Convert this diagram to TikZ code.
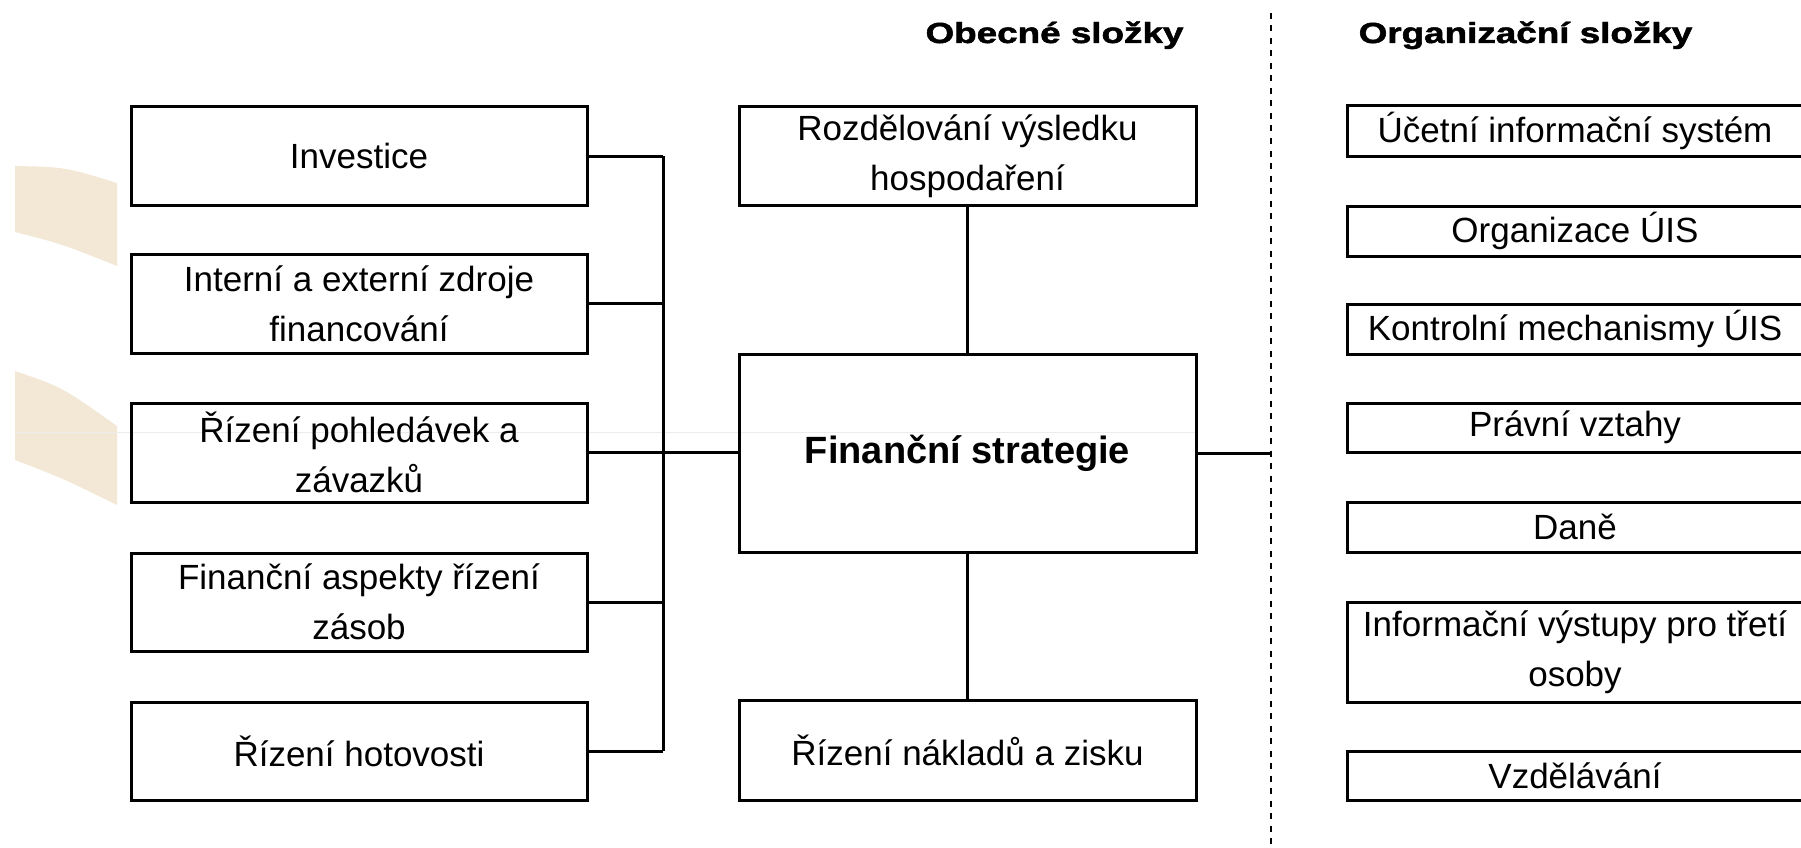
\documentclass[tikz,border=0pt]{standalone}
\usepackage{graphicx}
\usepackage{fontspec}
\setmainfont{Liberation Sans}
\newfontfamily\hdrfont[FakeBold=1.6]{Liberation Sans Bold}
\definecolor{beige}{RGB}{243,232,213}
\tikzset{
  box/.style={draw, line width=3pt, inner sep=0pt, align=center, minimum width=456pt,
    font=\fontsize{35}{50}\selectfont},
  link/.style={line width=3pt},
  hdr/.style={anchor=base, inner sep=0pt, font=\fontsize{29}{34}\hdrfont},
  divider/.style={line width=2.5pt, dash pattern=on 6pt off 6.5pt},
}
\begin{document}
\begin{tikzpicture}[x=1pt,y=-1pt]
\useasboundingbox (0,0) rectangle (1801,848);
% decorative beige shapes
\fill[beige] (15,166) .. controls (65,167) .. (117,183) -- (117,266) .. controls (62,244) .. (15,232) -- cycle;
\fill[beige] (15,371) .. controls (62,387) .. (117,426) -- (117,505) .. controls (62,478) .. (15,460) -- cycle;
\draw[gray!15, line width=1pt] (15,432) -- (1196,432);
% headers
\node[hdr] (h1) at (1054.5,43) {\scalebox{1.27}[1]{Obecné složky}};
\node[hdr] (h2) at (1525.5,43) {\scalebox{1.27}[1]{Organizační složky}};
% left column
\node[box, minimum height=98pt] (inv) at (359,156) {Investice};
\node[box, minimum height=99pt] (izf) at (359,303.5) {Interní a externí zdroje\\financování};
\node[box, minimum height=99pt] (rpz) at (359,452.5) {Řízení pohledávek a\\závazků};
\node[box, minimum height=98pt] (fas) at (359,602) {Finanční aspekty řízení\\zásob};
\node[box, minimum height=98pt] (rho) at (359,751) {Řízení hotovosti};
% central column
\node[box, minimum width=457pt, minimum height=98pt] (roz) at (967.5,156) {Rozdělování výsledku\\hospodaření};
\node[box, minimum width=457pt, minimum height=198pt, font=\fontsize{38}{46}\selectfont\bfseries] (fs) at (967.5,453) {Finanční strategie};
\node[box, minimum width=457pt, minimum height=100pt] (rnz) at (967.5,750) {Řízení nákladů a zisku};
% right column
\node[box, minimum height=50pt] (uis) at (1575,131) {Účetní informační systém};
\node[box, minimum height=50pt] (org) at (1575,231) {Organizace ÚIS};
\node[box, minimum height=50pt] (kon) at (1575,329) {Kontrolní mechanismy ÚIS};
\node[box, minimum height=49pt] (pra) at (1575,427.5) {Právní vztahy};
\node[box, minimum height=50pt] (dan) at (1575,527) {Daně};
\node[box, minimum height=100pt] (inf) at (1575,652) {Informační výstupy pro třetí\\osoby};
\node[box, minimum height=49pt] (vzd) at (1575,775.5) {Vzdělávání};
% divider
\coordinate (dtop) at (1271,13);
\coordinate (dbot) at (1271,848);
\draw[divider] (dtop) -- (dbot);
% bus
\coordinate (bx) at (663,0);
\draw[link] (inv.east) -- (inv.east -| bx);
\draw[link] (izf.east) -- (izf.east -| bx);
\draw[link] (rpz.east) -- (fs.west |- rpz.east);
\draw[link] (fas.east) -- (fas.east -| bx);
\draw[link] (rho.east) -- (rho.east -| bx);
\draw[link] (inv.east -| bx) -- (rho.east -| bx);
% central links
\draw[link] (roz.south) -- (fs.north);
\draw[link] (fs.south) -- (rnz.north);
\draw[link] (fs.east) -- (fs.east -| dtop);
\end{tikzpicture}
\end{document}
